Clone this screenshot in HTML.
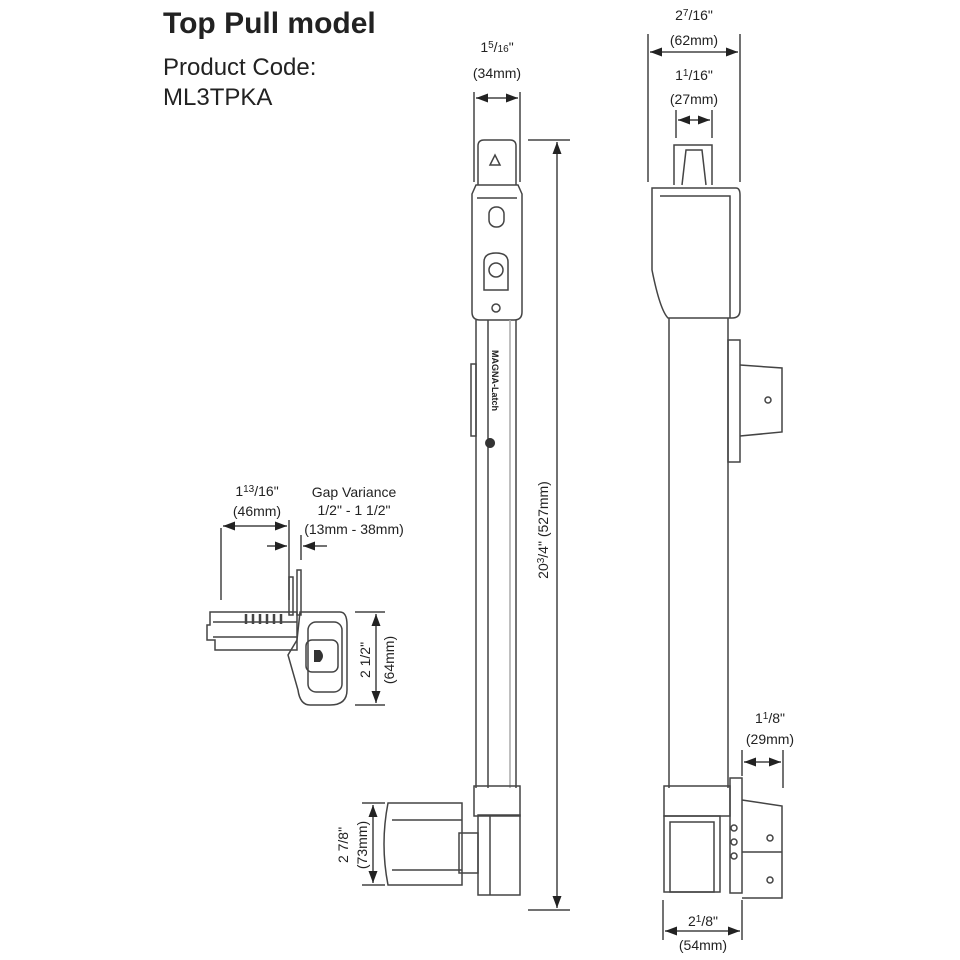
<!DOCTYPE html>
<html><head><meta charset="utf-8"><style>
html,body{margin:0;padding:0;background:#fff;}
svg{display:block;}
text{font-family:"Liberation Sans",sans-serif;fill:#222;}
.d{font-family:"Liberation Sans Narrow","Liberation Sans",sans-serif;font-size:14px;}
</style></head><body>
<svg width="960" height="960" viewBox="0 0 960 960" xmlns="http://www.w3.org/2000/svg">
<defs>
<marker id="a" markerWidth="8" markerHeight="6" refX="8" refY="3" orient="auto-start-reverse"><path d="M0,0 L8,3 L0,6z" fill="#222"/></marker>
</defs>
<text x="163" y="33" font-size="30" font-weight="bold" fill="#111">Top Pull model</text>
<text x="163" y="75" font-size="24" fill="#333">Product Code:</text>
<text x="163" y="105" font-size="24" fill="#333">ML3TPKA</text>

<g stroke="#444" stroke-width="1.5" fill="none">
<line x1="474" y1="92" x2="474" y2="182"/><line x1="520" y1="92" x2="520" y2="182"/>
<line x1="476" y1="98" x2="518" y2="98" marker-start="url(#a)" marker-end="url(#a)"/>
<line x1="528" y1="140" x2="570" y2="140"/><line x1="528" y1="910" x2="570" y2="910"/>
<line x1="557" y1="142" x2="557" y2="908" marker-start="url(#a)" marker-end="url(#a)"/>
<path d="M478,185 L478,146 Q478,140 484,140 L510,140 Q516,140 516,146 L516,185"/>
<path d="M490,165 L495,155 L500,165z"/>
<path d="M472,194 L476,185 L518,185 L522,194 L522,312 Q522,320 514,320 L480,320 Q472,320 472,312z"/>
<line x1="477" y1="198" x2="517" y2="198"/>
<rect x="489" y="207" width="15" height="20" rx="7"/>
<path d="M484,262 Q484,253 496,253 Q508,253 508,262 L508,290 L484,290z"/>
<circle cx="496" cy="270" r="7"/>
<circle cx="496" cy="308" r="4"/>
<line x1="476" y1="320" x2="476" y2="788"/><line x1="516" y1="320" x2="516" y2="788"/>
<line x1="488" y1="320" x2="488" y2="788"/><line x1="510" y1="320" x2="510" y2="788" stroke="#aaa"/>
<rect x="471" y="364" width="5" height="72"/>
<rect x="474" y="786" width="46" height="30"/>
<rect x="478" y="815" width="42" height="80"/>
<line x1="490" y1="815" x2="490" y2="895"/>
<path d="M388,803 L462,803 L462,885 L388,885 Q380,844 388,803z"/>
<line x1="392" y1="820" x2="462" y2="820"/><line x1="392" y1="870" x2="462" y2="870"/>
<rect x="459" y="833" width="19" height="40"/>
<line x1="362" y1="803" x2="385" y2="803"/><line x1="362" y1="885" x2="385" y2="885"/>
<line x1="373" y1="805" x2="373" y2="883" marker-start="url(#a)" marker-end="url(#a)"/>

<line x1="648" y1="34" x2="648" y2="182"/><line x1="740" y1="34" x2="740" y2="182"/>
<line x1="650" y1="52" x2="738" y2="52" marker-start="url(#a)" marker-end="url(#a)"/>
<line x1="676" y1="110" x2="676" y2="138"/><line x1="712" y1="110" x2="712" y2="138"/>
<line x1="678" y1="120" x2="710" y2="120" marker-start="url(#a)" marker-end="url(#a)"/>
<path d="M674,185 L674,145 L712,145 L712,185"/>
<path d="M682,185 L686,150 L702,150 L706,185"/>
<path d="M652,188 L736,188 Q740,188 740,195 L740,310 Q740,318 732,318 L668,318 Q660,310 652,270z"/>
<path d="M660,196 L730,196 L730,318"/>
<line x1="669" y1="318" x2="669" y2="788"/><line x1="728" y1="318" x2="728" y2="788"/>
<rect x="728" y="340" width="12" height="122"/>
<path d="M740,365 L782,368 L782,432 L740,436"/>
<circle cx="768" cy="400" r="3"/>
<rect x="664" y="786" width="66" height="30"/>
<rect x="664" y="816" width="56" height="76"/>
<rect x="670" y="822" width="44" height="70"/>
<rect x="730" y="778" width="12" height="115"/>
<path d="M742,800 L782,806 L782,898 L742,898"/>
<line x1="742" y1="852" x2="782" y2="852"/>
<circle cx="770" cy="838" r="3"/><circle cx="770" cy="880" r="3"/>
<circle cx="734" cy="828" r="3"/><circle cx="734" cy="842" r="3"/><circle cx="734" cy="856" r="3"/>
<line x1="742" y1="750" x2="742" y2="776"/><line x1="783" y1="750" x2="783" y2="788"/>
<line x1="744" y1="762" x2="781" y2="762" marker-start="url(#a)" marker-end="url(#a)"/>
<line x1="663" y1="900" x2="663" y2="940"/><line x1="742" y1="900" x2="742" y2="940"/>
<line x1="665" y1="931" x2="740" y2="931" marker-start="url(#a)" marker-end="url(#a)"/>

<line x1="221" y1="528" x2="221" y2="600"/><line x1="289" y1="520" x2="289" y2="600"/>
<line x1="223" y1="526" x2="287" y2="526" marker-start="url(#a)" marker-end="url(#a)"/>
<line x1="301" y1="535" x2="301" y2="560"/>
<line x1="267" y1="546" x2="287" y2="546" marker-end="url(#a)"/>
<line x1="327" y1="546" x2="303" y2="546" marker-end="url(#a)"/>
<rect x="289" y="577" width="4" height="38"/><rect x="297" y="570" width="4" height="45"/>
<path d="M210,612 L297,612 L297,650 L215,650 L215,640 L207,640 L207,625 L210,625z"/>
<line x1="213" y1="622" x2="297" y2="622"/><line x1="213" y1="637" x2="297" y2="637"/>
<g stroke-width="2.5"><line x1="246" y1="614" x2="246" y2="624"/><line x1="253" y1="614" x2="253" y2="624"/><line x1="260" y1="614" x2="260" y2="624"/><line x1="267" y1="614" x2="267" y2="624"/><line x1="274" y1="614" x2="274" y2="624"/><line x1="281" y1="614" x2="281" y2="624"/></g>
<path d="M300,612 L340,612 Q347,612 347,625 L347,690 Q347,705 330,705 L310,705 Q300,705 298,690 L288,655 L297,640z"/>
<rect x="306" y="640" width="32" height="32" rx="6"/>
<rect x="308" y="622" width="34" height="70" rx="8"/>
<line x1="355" y1="612" x2="385" y2="612"/><line x1="355" y1="705" x2="385" y2="705"/>
<line x1="376" y1="614" x2="376" y2="703" marker-start="url(#a)" marker-end="url(#a)"/>
</g>
<path d="M314,650 L320,650 Q326,656 320,662 L314,662z" fill="#333"/>
<path d="M490,438 a5,5 0 1,0 .1,0z" fill="#333"/>
<text x="0" y="0" font-size="9" font-weight="bold" transform="translate(492,350) rotate(90)" fill="#333">MAGNA-Latch</text>

<text class="d" x="497" y="52" text-anchor="middle">1<tspan font-size="10" dy="-4">5</tspan><tspan dy="4">/</tspan><tspan font-size="10">16</tspan>"</text>
<text class="d" x="497" y="78" text-anchor="middle">(34mm)</text>
<text class="d" x="694" y="20" text-anchor="middle">2<tspan font-size="10" dy="-4">7</tspan><tspan dy="4">/16"</tspan></text>
<text class="d" x="694" y="45" text-anchor="middle">(62mm)</text>
<text class="d" x="694" y="80" text-anchor="middle">1<tspan font-size="10" dy="-4">1</tspan><tspan dy="4">/16"</tspan></text>
<text class="d" x="694" y="104" text-anchor="middle">(27mm)</text>
<text class="d" x="770" y="723" text-anchor="middle">1<tspan font-size="10" dy="-4">1</tspan><tspan dy="4">/8"</tspan></text>
<text class="d" x="770" y="744" text-anchor="middle">(29mm)</text>
<rect x="684" y="912" width="40" height="16" fill="#fff"/>
<text class="d" x="703" y="926" text-anchor="middle">2<tspan font-size="10" dy="-4">1</tspan><tspan dy="4">/8"</tspan></text>
<text class="d" x="703" y="950" text-anchor="middle">(54mm)</text>
<text class="d" x="257" y="496" text-anchor="middle">1<tspan font-size="10" dy="-4">13</tspan><tspan dy="4">/16"</tspan></text>
<text class="d" x="257" y="516" text-anchor="middle">(46mm)</text>
<text class="d" x="354" y="497" text-anchor="middle">Gap Variance</text>
<text class="d" x="354" y="515" text-anchor="middle">1/2" - 1 1/2"</text>
<text class="d" x="354" y="534" text-anchor="middle">(13mm - 38mm)</text>
<rect x="535" y="470" width="16" height="120" fill="#fff"/>
<text class="d" transform="translate(548,530) rotate(-90)" text-anchor="middle">20<tspan font-size="10" dy="-4">3</tspan><tspan dy="4">/4"  (527mm)</tspan></text>
<rect x="358" y="640" width="16" height="40" fill="#fff"/>
<text class="d" transform="translate(370,660) rotate(-90)" text-anchor="middle">2 1/2"</text>
<text class="d" transform="translate(394,660) rotate(-90)" text-anchor="middle">(64mm)</text>
<text class="d" transform="translate(348,845) rotate(-90)" text-anchor="middle">2 7/8"</text>
<rect x="355" y="820" width="15" height="50" fill="#fff"/>
<text class="d" transform="translate(367,845) rotate(-90)" text-anchor="middle">(73mm)</text>
</svg>
</body></html>
